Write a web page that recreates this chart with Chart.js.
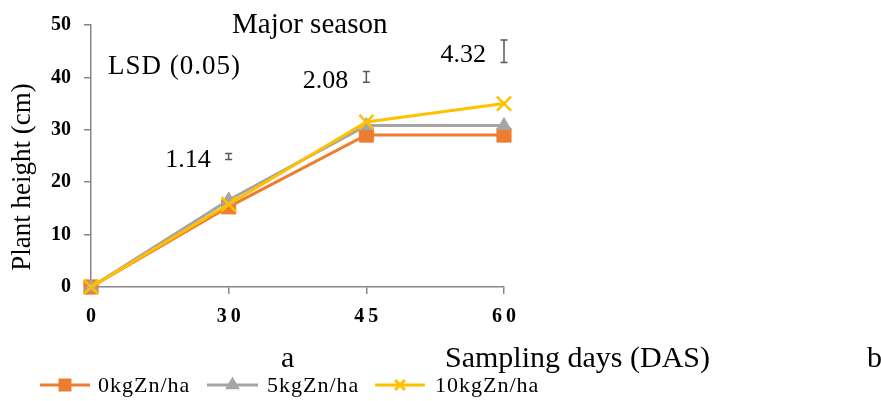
<!DOCTYPE html>
<html>
<head>
<meta charset="utf-8">
<script src="https://cdn.jsdelivr.net/npm/chart.js@4/dist/chart.umd.min.js"></script>
<style>
  html, body { margin: 0; padding: 0; background: #fff; }
  #wrap { position: relative; width: 881px; height: 401px; }
</style>
</head>
<body>
<div id="wrap"><canvas id="heightChart"></canvas></div>
<script>
// Sampling days (categories) and plant height (cm) per Zn rate
const days = ["0", "30", "45", "60"];
const seriesNames = ["0kgZn/ha", "5kgZn/ha", "10kgZn/ha"];
const zn0 = [0, 15.3, 29.0, 29.0];
const zn5 = [0, 16.6, 30.8, 30.8];
const zn10 = [0, 15.8, 31.5, 35.0];
// LSD (0.05) per sampling day, and the height where the bar sits
const lsdValues = [null, 1.14, 2.08, 4.32];
const lsdCenters = [null, 24.9, 40.1, 45.0];
const yTicks = [0, 10, 20, 30, 40, 50];

const serif = "'Liberation Serif', 'Times New Roman', serif";
const colors = ["#ED7D31", "#A5A5A5", "#FFC000"];
const markers = ["rect", "triangle", "crossRot"];
const markerSize = [10, 8, 10];

// draws the free text, LSD bars and the legend
const extrasPlugin = {
  id: "extras",
  afterDraw(chart) {
    const ctx = chart.ctx;
    const x = chart.scales.x;
    const y = chart.scales.y;
    ctx.save();
    ctx.fillStyle = "#000";

    ctx.font = "29px " + serif;
    ctx.textAlign = "left";
    ctx.textBaseline = "middle";
    ctx.fillText("Major season", 232, 25);

    ctx.font = "27px " + serif;
    ctx.letterSpacing = "1px";
    ctx.fillText("LSD (0.05)", 108, 67);
    ctx.letterSpacing = "0px";

    // LSD bars
    ctx.strokeStyle = "#595959";
    ctx.lineWidth = 1.5;
    lsdValues.forEach((v, i) => {
      if (v == null) return;
      const px = x.getPixelForValue(i);
      const top = y.getPixelForValue(lsdCenters[i] + v / 2);
      const bot = y.getPixelForValue(lsdCenters[i] - v / 2);
      ctx.beginPath();
      ctx.moveTo(px, top); ctx.lineTo(px, bot);
      ctx.moveTo(px - 3.5, top); ctx.lineTo(px + 3.5, top);
      ctx.moveTo(px - 3.5, bot); ctx.lineTo(px + 3.5, bot);
      ctx.stroke();
      ctx.textAlign = "right";
      ctx.font = "26px " + serif;
      ctx.fillText(v.toFixed(2), px - 18, (top + bot) / 2 + 4);
    });

    // axis titles
    ctx.textAlign = "center";
    ctx.font = "27px " + serif;
    ctx.save();
    ctx.translate(23, 177);
    ctx.rotate(-Math.PI / 2);
    ctx.fillText("Plant height (cm)", 0, 0);
    ctx.restore();
    ctx.font = "30px " + serif;
    ctx.textAlign = "left";
    ctx.fillText("Sampling days (DAS)", 445, 359);
    ctx.fillText("a", 281, 359);
    ctx.fillText("b", 867, 359);

    // legend
    const items = [[40, 90, 98], [207, 258, 267], [375, 425, 435]];
    const ly = 385;
    items.forEach((it, i) => {
      ctx.strokeStyle = colors[i];
      ctx.lineWidth = 3;
      ctx.beginPath();
      ctx.moveTo(it[0], ly); ctx.lineTo(it[1], ly);
      ctx.stroke();
      ctx.fillStyle = colors[i];
      Chart.helpers.drawPoint(ctx, {
        pointStyle: markers[i], radius: markerSize[i] * 0.7, rotation: 0, borderWidth: 2
      }, (it[0] + it[1]) / 2, ly);
      ctx.fillStyle = "#000";
      ctx.font = "22px " + serif;
      ctx.letterSpacing = "1px";
      ctx.textAlign = "left";
      ctx.fillText(seriesNames[i], it[2], ly + 1);
      ctx.letterSpacing = "0px";
    });
    ctx.restore();
  }
};

const makeSet = (label, data, i) => ({
  label: label,
  data: data,
  borderColor: colors[i],
  backgroundColor: colors[i],
  borderWidth: 3,
  pointStyle: markers[i],
  pointRadius: markerSize[i],
  pointBorderWidth: i === 2 ? 2.5 : 1,
  pointBorderColor: colors[i],
  pointBackgroundColor: colors[i],
  tension: 0,
  clip: false,
  order: 3 - i
});

new Chart(document.getElementById("heightChart"), {
  type: "line",
  data: {
    labels: days,
    datasets: [
      makeSet(seriesNames[0], zn0, 0),
      makeSet(seriesNames[1], zn5, 1),
      makeSet(seriesNames[2], zn10, 2)
    ]
  },
  options: {
    responsive: true,
    maintainAspectRatio: false,
    animation: false,
    events: [],
    layout: { padding: { top: 20, right: 377, left: 0, bottom: 0 } },
    scales: {
      x: {
        offset: false,
        afterFit: (s) => { s.height = 114; },
        border: { color: "#868686", width: 1.5 },
        grid: { drawOnChartArea: false, drawTicks: true, tickLength: 7, color: "#868686", lineWidth: 1.5 },
        ticks: {
          color: "#000",
          padding: 11,
          maxRotation: 0,
          font: { family: serif, size: 20, weight: "bold" },
          callback: (v, i) => days[i].split("").join("\u2009")
        }
      },
      y: {
        min: 0,
        max: 50,
        afterFit: (s) => { s.width = 91; },
        afterBuildTicks: (s) => { s.ticks = yTicks.map(v => ({ value: v })); },
        border: { color: "#868686", width: 1.5 },
        grid: { drawOnChartArea: false, drawTicks: true, tickLength: 7, color: "#868686", lineWidth: 1.5 },
        ticks: {
          color: "#000",
          padding: 13,
          font: { family: serif, size: 20, weight: "bold" }
        }
      }
    },
    plugins: {
      legend: { display: false },
      title: { display: false },
      tooltip: { enabled: false }
    }
  },
  plugins: [extrasPlugin]
});
</script>
</body>
</html>
